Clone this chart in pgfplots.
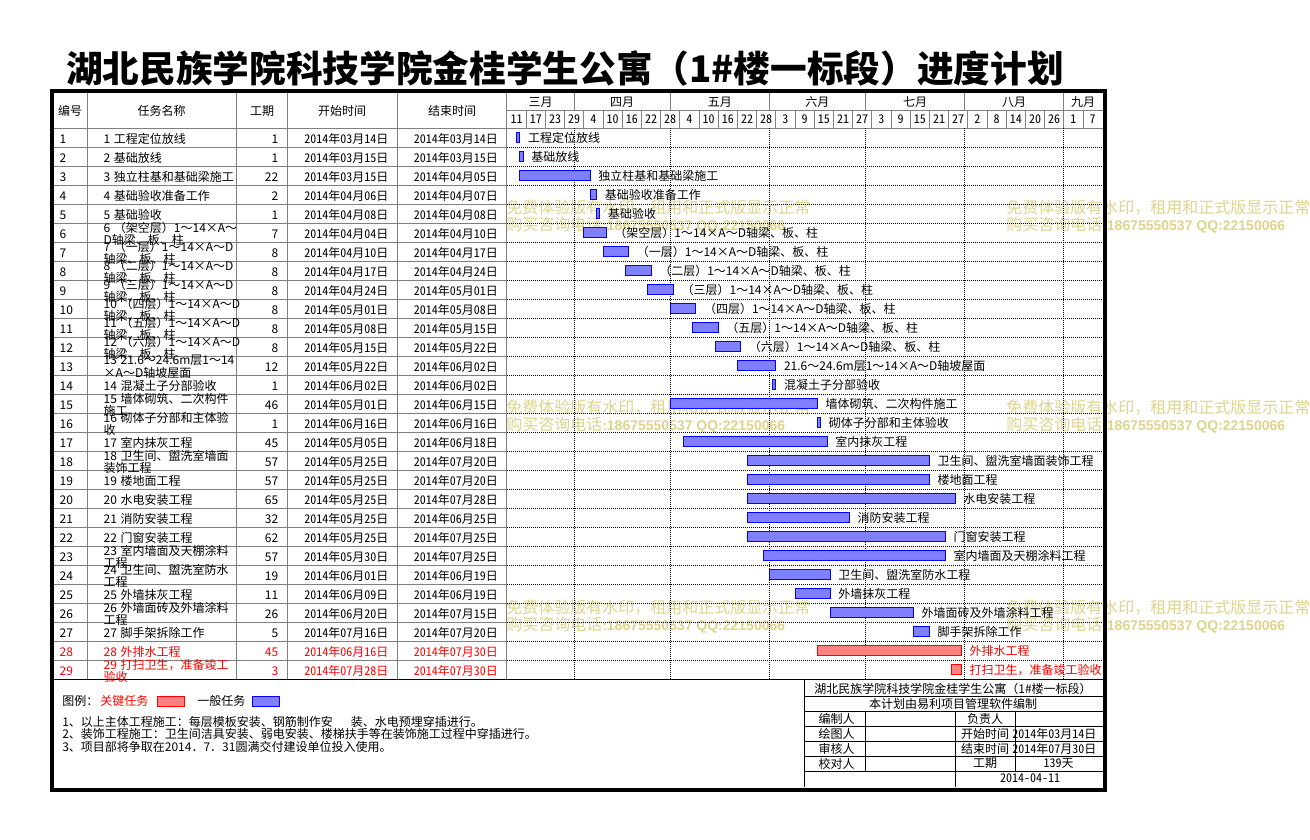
\documentclass[border=0pt]{standalone}
\usepackage{fontspec}
\setmainfont{Noto Sans CJK SC}
\newfontfamily\hw{Noto Sans CJK SC}[RawFeature=+hwid]
\newfontfamily\latinb{Liberation Sans}
\usepackage{pgfplots}
\pgfplotsset{compat=1.18}
\usepackage{pgfplotstable}

\definecolor{gridgray}{RGB}{128,128,128}
\definecolor{barblue}{RGB}{128,128,255}
\definecolor{barred}{RGB}{255,128,128}
\definecolor{wmark}{RGB}{222,212,140}
\newcommand{\tf}{\fontsize{9pt}{9.4pt}\selectfont}

% day index: 0 = 2014-03-11; s = first day, d = duration (days), e = s + d (bar end)
\pgfplotstableread{
id s d e lb
1 3 1 4 工程定位放线
2 4 1 5 基础放线
3 4 22 26 独立柱基和基础梁施工
4 26 2 28 基础验收准备工作
5 28 1 29 基础验收
6 24 7 31 （架空层）1～14×A～D轴梁、板、柱
7 30 8 38 （一层）1～14×A～D轴梁、板、柱
8 37 8 45 （二层）1～14×A～D轴梁、板、柱
9 44 8 52 （三层）1～14×A～D轴梁、板、柱
10 51 8 59 （四层）1～14×A～D轴梁、板、柱
11 58 8 66 （五层）1～14×A～D轴梁、板、柱
12 65 8 73 （六层）1～14×A～D轴梁、板、柱
13 72 12 84 21.6～24.6m层1～14×A～D轴坡屋面
14 83 1 84 混凝土子分部验收
15 51 46 97 墙体砌筑、二次构件施工
16 97 1 98 砌体子分部和主体验收
17 55 45 100 室内抹灰工程
18 75 57 132 卫生间、盥洗室墙面装饰工程
19 75 57 132 楼地面工程
20 75 65 140 水电安装工程
21 75 32 107 消防安装工程
22 75 62 137 门窗安装工程
23 80 57 137 室内墙面及天棚涂料工程
24 82 19 101 卫生间、盥洗室防水工程
25 90 11 101 外墙抹灰工程
26 101 26 127 外墙面砖及外墙涂料工程
27 127 5 132 脚手架拆除工作
}\normaltasks

\pgfplotstableread{
id s d e lb
28 97 45 142 外排水工程
29 139 3 142 打扫卫生，准备竣工验收
}\keytasks

\pgfplotsset{
  ganttbase/.style={
    scale only axis, width=446.4pt, height=413.25pt,
    at={(380.25pt,-96.225pt)}, anchor=north west,
    xmin=0, xmax=186, ymin=0.5, ymax=29.5, y dir=reverse, clip=false},
  gantt/.style={ganttbase, xbar stacked, bar width=7.5pt},
}
\tikzset{tasklabel/.style={font=\tf, anchor=west, inner sep=0pt, xshift=6pt}}

\begin{document}
\begin{tikzpicture}[x=0.75pt,y=-0.75pt]
\useasboundingbox (0,0) rectangle (1310,839);
\fill[white] (0,0) rectangle (1310,839);

% title
\node[font=\fontsize{27.5pt}{30pt}\selectfont\bfseries] at (565,68)
  {湖北民族学院科技学院金桂学生公寓（1\#楼一标段）进度计划};

% table grid
\begin{scope}[gridgray, line width=0.75pt]
  \foreach \k in {0,...,29} \draw (51.5,128.3+19*\k) -- (507,128.3+19*\k);
  \foreach \xx in {87.3,236,287.3,397.3,506.7} \draw (\xx,93) -- (\xx,679.3);
  \draw (507,110.5) -- (1103,110.5);
  \draw (507,128.3) -- (1103,128.3);
  \foreach \b in {21,51,82,112,143,174} \draw (507+3.2*\b,93) -- (507+3.2*\b,110.5);
  \foreach \k in {1,...,30} \draw (507+19.2*\k,110.5) -- (507+19.2*\k,128.3);
\end{scope}

% header text
\begin{scope}[font=\tf]
  \node at (70,111) {编号};
  \node at (161.5,111) {任务名称};
  \node at (262,111) {工期};
  \node at (342,111) {开始时间};
  \node at (452,111) {结束时间};
  \foreach \m/\xc in {三月/540.6,四月/622.2,五月/719.8,六月/817.4,七月/915,八月/1014.2,九月/1083}
    \node at (\xc,102) {\m};
  \foreach \dd [count=\k from 0] in {11,17,23,29,4,10,16,22,28,4,10,16,22,28,3,9,15,21,27,3,9,15,21,27,2,8,14,20,26,1,7}
    \node[font=\tf\hw] at (507+19.2*\k+9.6,119.5) {\dd};
\end{scope}

% table rows
\begin{scope}[font=\tf]
\foreach \i/\nm/\du/\st/\en/\cl in {
 1/{1\hspace{0.3em}工程定位放线}/1/2014年03月14日/2014年03月14日/black,
 2/{2\hspace{0.3em}基础放线}/1/2014年03月15日/2014年03月15日/black,
 3/{3\hspace{0.3em}独立柱基和基础梁施工}/22/2014年03月15日/2014年04月05日/black,
 4/{4\hspace{0.3em}基础验收准备工作}/2/2014年04月06日/2014年04月07日/black,
 5/{5\hspace{0.3em}基础验收}/1/2014年04月08日/2014年04月08日/black,
 6/{6\hspace{0.3em}（架空层）1～14×A～\\D轴梁、板、柱}/7/2014年04月04日/2014年04月10日/black,
 7/{7\hspace{0.3em}（一层）1～14×A～D\\轴梁、板、柱}/8/2014年04月10日/2014年04月17日/black,
 8/{8\hspace{0.3em}（二层）1～14×A～D\\轴梁、板、柱}/8/2014年04月17日/2014年04月24日/black,
 9/{9\hspace{0.3em}（三层）1～14×A～D\\轴梁、板、柱}/8/2014年04月24日/2014年05月01日/black,
 10/{10\hspace{0.3em}（四层）1～14×A～D\\轴梁、板、柱}/8/2014年05月01日/2014年05月08日/black,
 11/{11\hspace{0.3em}（五层）1～14×A～D\\轴梁、板、柱}/8/2014年05月08日/2014年05月15日/black,
 12/{12\hspace{0.3em}（六层）1～14×A～D\\轴梁、板、柱}/8/2014年05月15日/2014年05月22日/black,
 13/{13\hspace{0.3em}21.6～24.6m层1～14\\×A～D轴坡屋面}/12/2014年05月22日/2014年06月02日/black,
 14/{14\hspace{0.3em}混凝土子分部验收}/1/2014年06月02日/2014年06月02日/black,
 15/{15\hspace{0.3em}墙体砌筑、二次构件\\施工}/46/2014年05月01日/2014年06月15日/black,
 16/{16\hspace{0.3em}砌体子分部和主体验\\收}/1/2014年06月16日/2014年06月16日/black,
 17/{17\hspace{0.3em}室内抹灰工程}/45/2014年05月05日/2014年06月18日/black,
 18/{18\hspace{0.3em}卫生间、盥洗室墙面\\装饰工程}/57/2014年05月25日/2014年07月20日/black,
 19/{19\hspace{0.3em}楼地面工程}/57/2014年05月25日/2014年07月20日/black,
 20/{20\hspace{0.3em}水电安装工程}/65/2014年05月25日/2014年07月28日/black,
 21/{21\hspace{0.3em}消防安装工程}/32/2014年05月25日/2014年06月25日/black,
 22/{22\hspace{0.3em}门窗安装工程}/62/2014年05月25日/2014年07月25日/black,
 23/{23\hspace{0.3em}室内墙面及天棚涂料\\工程}/57/2014年05月30日/2014年07月25日/black,
 24/{24\hspace{0.3em}卫生间、盥洗室防水\\工程}/19/2014年06月01日/2014年06月19日/black,
 25/{25\hspace{0.3em}外墙抹灰工程}/11/2014年06月09日/2014年06月19日/black,
 26/{26\hspace{0.3em}外墙面砖及外墙涂料\\工程}/26/2014年06月20日/2014年07月15日/black,
 27/{27\hspace{0.3em}脚手架拆除工作}/5/2014年07月16日/2014年07月20日/black,
 28/{28\hspace{0.3em}外排水工程}/45/2014年06月16日/2014年07月30日/red,
 29/{29\hspace{0.3em}打扫卫生，准备竣工\\验收}/3/2014年07月28日/2014年07月30日/red}
{
  \pgfmathsetmacro\yy{119.8+19*\i}
  \node[anchor=west, text=\cl] at (55,\yy) {\i};
  \node[anchor=west, align=left, text=\cl] at (99,\yy) {\nm};
  \node[anchor=east, text=\cl] at (283,\yy) {\du};
  \node[anchor=east, text=\cl, font=\tf\hw] at (393,\yy) {\st};
  \node[anchor=east, text=\cl, font=\tf\hw] at (502.5,\yy) {\en};
}
\end{scope}

% watermark
\foreach \wx/\wy in {506/208,1006/208,506/408,1006/408,506/608,1006/608} {
  \node[anchor=west, inner sep=0pt, text=wmark, font=\fontsize{12pt}{13pt}\selectfont] at (\wx,\wy)
    {免费体验版有水印，租用和正式版显示正常};
  \node[anchor=west, inner sep=0pt, text=wmark, font=\fontsize{12pt}{13pt}\selectfont] at (\wx,\wy+17)
    {购买咨询电话{\latinb\bfseries\fontsize{10.5pt}{12pt}\selectfont :18675550537 QQ:22150066}};
}

% timeline: normal tasks
\begin{axis}[gantt,
  xtick={21,51,82,112,143,174}, ytick={1.5,2.5,...,28.5},
  xticklabels={}, yticklabels={},
  grid=major, major grid style={black, line width=0.75pt, dash pattern=on 0.75pt off 0.75pt},
  tick style={draw=none}, axis line style={draw=none}]
  \addplot[draw=none, fill=none] table[x=s, y=id] {\normaltasks};
  \addplot[draw=blue, line width=0.75pt, fill=barblue] table[x=d, y=id] {\normaltasks};
\end{axis}

% timeline: key tasks
\begin{axis}[gantt, hide axis]
  \addplot[draw=none, fill=none] table[x=s, y=id] {\keytasks};
  \addplot[draw=red, line width=0.75pt, fill=barred] table[x=d, y=id] {\keytasks};
\end{axis}

% timeline: task names after the bars
\begin{axis}[ganttbase, hide axis]
  \addplot[only marks, mark=none, nodes near coords, point meta=explicit symbolic,
    nodes near coords style={tasklabel, text=black}]
    table[x=e, y=id, meta=lb] {\normaltasks};
  \addplot[only marks, mark=none, nodes near coords, point meta=explicit symbolic,
    nodes near coords style={tasklabel, text=red}]
    table[x=e, y=id, meta=lb] {\keytasks};
\end{axis}

% table bottom
\draw[black, line width=0.75pt] (51.5,679.8) -- (1103,679.8);

% legend and notes
\begin{scope}[font=\tf]
  \node[anchor=west, inner sep=0pt] at (62,701) {图例：};
  \node[anchor=west, inner sep=0pt, text=red] at (100,701) {关键任务};
  \draw[red, fill=barred, line width=0.75pt] (157,696.5) rectangle (184,706.5);
  \node[anchor=west, inner sep=0pt] at (197,701) {一般任务};
  \draw[blue, fill=barblue, line width=0.75pt] (252,696.5) rectangle (279,706.5);
  \node[anchor=west, inner sep=0pt] at (62,721.5) {1、以上主体工程施工：每层模板安装、钢筋制作安\hspace{1.5em}装、水电预埋穿插进行。};
  \node[anchor=west, inner sep=0pt] at (62,734) {2、装饰工程施工：卫生间洁具安装、弱电安装、楼梯扶手等在装饰施工过程中穿插进行。};
  \node[anchor=west, inner sep=0pt] at (62,746.5) {3、项目部将争取在2014．7．31圆满交付建设单位投入使用。};
\end{scope}

% info box
\begin{scope}[black, line width=0.75pt]
  \foreach \yy in {696,711,726,741,756,771} \draw (804,\yy) -- (1103,\yy);
  \draw (804,680) -- (804,787);
  \draw (865,711) -- (865,771);
  \draw (955,711) -- (955,787);
  \draw (1015,711) -- (1015,771);
\end{scope}
\begin{scope}[font=\tf]
  \node at (953,688.5) {湖北民族学院科技学院金桂学生公寓（1\#楼一标段）};
  \node at (953,703.5) {本计划由易利项目管理软件编制};
  \node[anchor=west] at (814,718.5) {编制人};
  \node[anchor=west] at (814,733.5) {绘图人};
  \node[anchor=west] at (814,748.5) {审核人};
  \node[anchor=west] at (814,763.5) {校对人};
  \node at (985,718.5) {负责人};
  \node at (985,733.5) {开始时间};
  \node at (985,748.5) {结束时间};
  \node at (985,763.5) {工期};
  \node[font=\tf\hw, anchor=east] at (1101,733.5) {2014年03月14日};
  \node[font=\tf\hw, anchor=east] at (1101,748.5) {2014年07月30日};
  \node[font=\tf\hw] at (1058.5,763.5) {139天};
  \node[font=\tf\hw] at (1030,778.5) {2014-04-11};
\end{scope}

% outer frame
\draw[black, line width=3pt] (51.7,91) rectangle (1105,789.5);
\end{tikzpicture}
\end{document}
